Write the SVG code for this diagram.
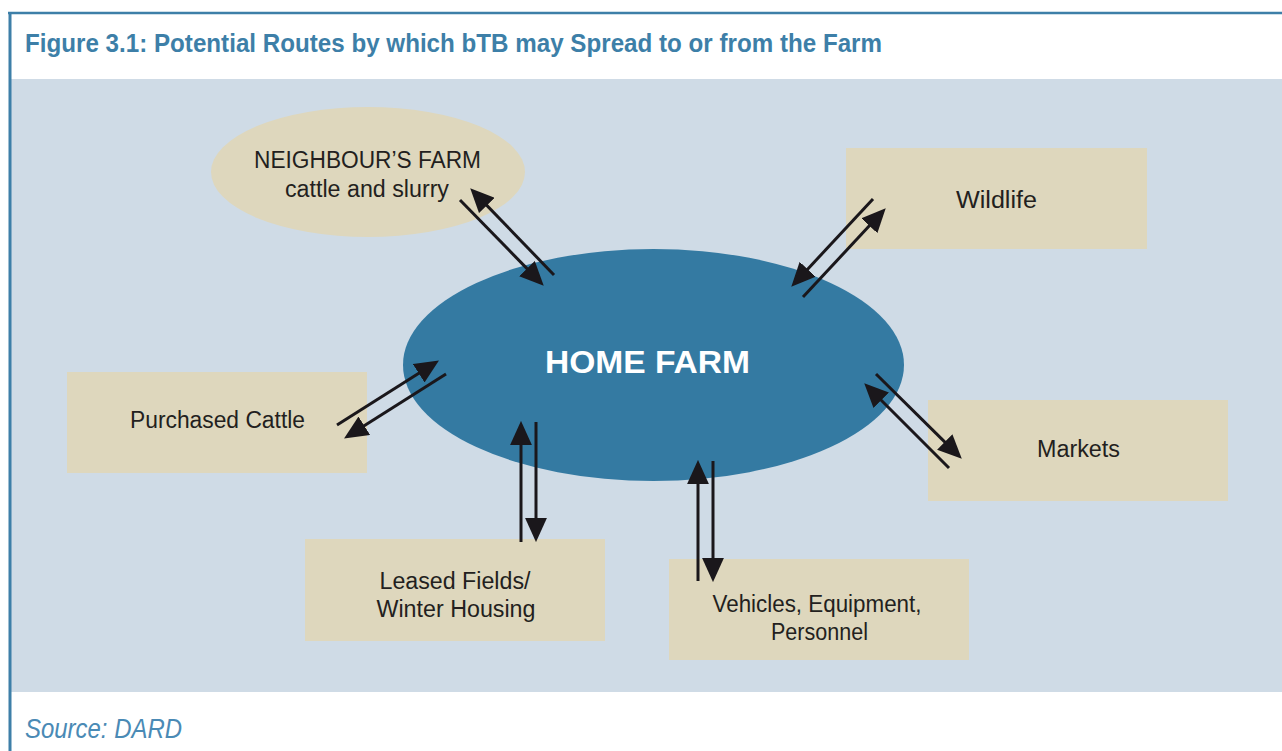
<svg xmlns="http://www.w3.org/2000/svg" width="1282" height="751" viewBox="0 0 1282 751">
<style>
.frame{stroke:#3d7fa8;fill:none}
.box{fill:#ded7bd}
.lbl{font-family:"Liberation Sans","DejaVu Sans",sans-serif;font-size:23px;fill:#231f20;text-anchor:middle}
.conn line{stroke:#1a171b;stroke-width:3}
</style>
<defs>
<marker id="ah" markerUnits="userSpaceOnUse" markerWidth="24" markerHeight="22" viewBox="0 0 22 20" refX="10" refY="10" orient="auto">
<path d="M0,0 L22,10 L0,20 z" fill="#1a171b"/>
</marker>
</defs>
<rect x="0" y="0" width="1282" height="751" fill="#ffffff"/>
<rect x="11" y="79" width="1271" height="613" fill="#cfdbe6"/>
<line class="frame" x1="8" y1="13" x2="1282" y2="13" stroke-width="2.5"/>
<line class="frame" x1="10" y1="12" x2="10" y2="751" stroke-width="3"/>
<text x="25" y="52" font-family="'Liberation Sans','DejaVu Sans',sans-serif" font-weight="bold" font-size="25" fill="#3d7fa8" textLength="857" lengthAdjust="spacingAndGlyphs">Figure 3.1: Potential Routes by which bTB may Spread to or from the Farm</text>
<text x="25" y="738" font-family="'Liberation Sans','DejaVu Sans',sans-serif" font-style="italic" font-size="27" fill="#4a8ab5" textLength="157" lengthAdjust="spacingAndGlyphs">Source: DARD</text>

<g id="home-farm">
<ellipse cx="653.5" cy="365" rx="250.5" ry="116" fill="#347aa2"/>
<text x="647.5" y="373" font-family="'Liberation Sans','DejaVu Sans',sans-serif" font-weight="bold" font-size="32" fill="#ffffff" text-anchor="middle" textLength="205" lengthAdjust="spacingAndGlyphs">HOME FARM</text>
</g>
<g id="neighbours-farm">
<ellipse cx="368" cy="172" rx="157" ry="65" class="box"/>
<text class="lbl" x="367.5" y="168" textLength="227" lengthAdjust="spacingAndGlyphs">NEIGHBOUR’S FARM</text>
<text class="lbl" x="367" y="197" textLength="164" lengthAdjust="spacingAndGlyphs">cattle and slurry</text>
</g>
<g id="wildlife">
<rect x="846" y="148" width="301" height="101" class="box"/>
<text class="lbl" x="996.5" y="208" textLength="81" lengthAdjust="spacingAndGlyphs">Wildlife</text>
</g>
<g id="purchased-cattle">
<rect x="67" y="372" width="300" height="101" class="box"/>
<text class="lbl" x="217.5" y="428" textLength="175" lengthAdjust="spacingAndGlyphs">Purchased Cattle</text>
</g>
<g id="markets">
<rect x="928" y="400" width="300" height="101" class="box"/>
<text class="lbl" x="1078.5" y="457" textLength="83" lengthAdjust="spacingAndGlyphs">Markets</text>
</g>
<g id="leased-fields">
<rect x="305" y="539" width="300" height="102" class="box"/>
<text class="lbl" x="455" y="589" textLength="151" lengthAdjust="spacingAndGlyphs">Leased Fields/</text>
<text class="lbl" x="456" y="617" textLength="159" lengthAdjust="spacingAndGlyphs">Winter Housing</text>
</g>
<g id="vehicles">
<rect x="669" y="559" width="300" height="101" class="box"/>
<text class="lbl" x="817" y="612" textLength="209" lengthAdjust="spacingAndGlyphs">Vehicles, Equipment,</text>
<text class="lbl" x="819.5" y="640" textLength="97" lengthAdjust="spacingAndGlyphs">Personnel</text>
</g>

<g id="connectors" class="conn">
<line x1="460" y1="200" x2="534.6" y2="276.4" marker-end="url(#ah)"/>
<line x1="554" y1="275" x2="479.3" y2="197.6" marker-end="url(#ah)"/>
<line x1="873" y1="199" x2="800.2" y2="277.2" marker-end="url(#ah)"/>
<line x1="803" y1="297" x2="876.8" y2="217.8" marker-end="url(#ah)"/>
<line x1="337" y1="425" x2="427.9" y2="367.4" marker-end="url(#ah)"/>
<line x1="446" y1="374" x2="355.1" y2="431.6" marker-end="url(#ah)"/>
<line x1="876" y1="374" x2="952.5" y2="449.6" marker-end="url(#ah)"/>
<line x1="949" y1="468" x2="873.5" y2="392.5" marker-end="url(#ah)"/>
<line x1="521" y1="542" x2="521" y2="434" marker-end="url(#ah)"/>
<line x1="536" y1="422" x2="536" y2="529" marker-end="url(#ah)"/>
<line x1="698" y1="581" x2="698" y2="473" marker-end="url(#ah)"/>
<line x1="713" y1="461" x2="713" y2="569" marker-end="url(#ah)"/>
</g>
</svg>
